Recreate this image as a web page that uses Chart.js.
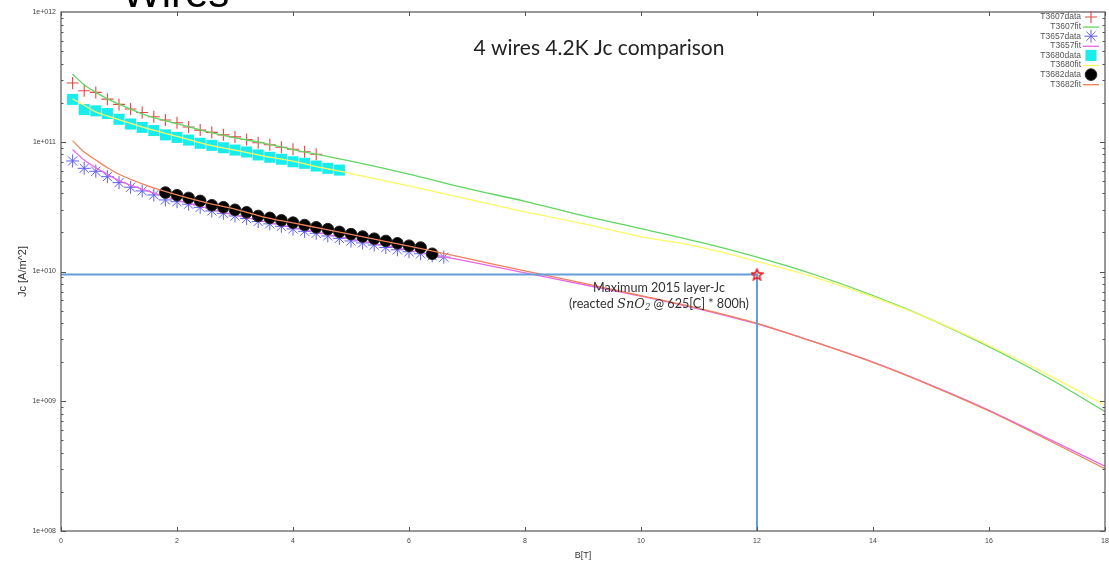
<!DOCTYPE html>
<html><head><meta charset="utf-8">
<script src="https://cdn.jsdelivr.net/npm/chart.js@4.4.0/dist/chart.umd.min.js"></script>
<style>html,body{margin:0;padding:0;background:#fff;overflow:hidden}#wrap{width:1109px;height:564px}</style>
</head><body><div id="wrap"><canvas id="c" width="1109" height="564"></canvas></div>
<script>
// ---- data (B in T, Jc in A/m^2) ----
const b3607 = [0.2,0.4,0.6,0.8,1.0,1.2,1.4,1.6,1.8,2.0,2.2,2.4,2.6,2.8,3.0,3.2,3.4,3.6,3.8,4.0,4.2,4.4];
const jc3607 = [2.84e11,2.47e11,2.40e11,2.13e11,1.94e11,1.79e11,1.68e11,1.56e11,1.47e11,1.40e11,1.30e11,1.23e11,1.18e11,1.13e11,1.09e11,1.04e11,9.82e10,9.48e10,9.06e10,8.75e10,8.38e10,8.00e10];
const b3657 = [0.2,0.4,0.6,0.8,1.0,1.2,1.4,1.6,1.8,2.0,2.2,2.4,2.6,2.8,3.0,3.2,3.4,3.6,3.8,4.0,4.2,4.4,4.6,4.8,5.0,5.2,5.4,5.6,5.8,6.0,6.2,6.4,6.6];
const jc3657 = [7.11e10,6.24e10,5.92e10,5.38e10,4.84e10,4.46e10,4.18e10,3.89e10,3.56e10,3.45e10,3.30e10,3.12e10,2.93e10,2.81e10,2.68e10,2.56e10,2.43e10,2.33e10,2.23e10,2.13e10,2.04e10,1.97e10,1.88e10,1.80e10,1.72e10,1.66e10,1.60e10,1.53e10,1.47e10,1.42e10,1.37e10,1.32e10,1.29e10];
const b3680 = [0.2,0.4,0.6,0.8,1.0,1.2,1.4,1.6,1.8,2.0,2.2,2.4,2.6,2.8,3.0,3.2,3.4,3.6,3.8,4.0,4.2,4.4,4.6,4.8];
const jc3680 = [2.12e11,1.77e11,1.73e11,1.65e11,1.49e11,1.37e11,1.29e11,1.22e11,1.13e11,1.08e11,1.03e11,9.73e10,9.38e10,8.99e10,8.63e10,8.34e10,7.91e10,7.59e10,7.33e10,7.01e10,6.82e10,6.50e10,6.24e10,6.05e10];
const b3682 = [1.8,2.0,2.2,2.4,2.6,2.8,3.0,3.2,3.4,3.6,3.8,4.0,4.2,4.4,4.6,4.8,5.0,5.2,5.4,5.6,5.8,6.0,6.2,6.4];
const jc3682 = [4.06e10,3.87e10,3.69e10,3.50e10,3.24e10,3.13e10,2.99e10,2.86e10,2.68e10,2.59e10,2.48e10,2.38e10,2.28e10,2.19e10,2.12e10,2.02e10,1.94e10,1.86e10,1.79e10,1.72e10,1.65e10,1.58e10,1.53e10,1.37e10];
const fitB = [0.2,0.4,0.6,0.8,1.0,1.5,2,2.5,3,3.5,4,4.5,5,6,7,8,9,10,11,12,13,14,15,16,17,18];
const fit3607 = [3.31e11,2.75e11,2.40e11,2.14e11,1.95e11,1.58e11,1.38e11,1.20e11,1.07e11,9.77e10,8.71e10,7.85e10,7.08e10,5.62e10,4.37e10,3.47e10,2.69e10,2.14e10,1.69e10,1.29e10,9.44e9,6.53e9,4.27e9,2.63e9,1.53e9,8.32e8];
const fit3657 = [8.71e10,7.24e10,6.31e10,5.62e10,5.01e10,4.17e10,3.55e10,3.09e10,2.72e10,2.43e10,2.19e10,1.97e10,1.78e10,1.46e10,1.20e10,9.77e9,7.94e9,6.46e9,5.13e9,3.94e9,2.85e9,2.00e9,1.33e9,8.51e8,5.19e8,3.16e8];
const fit3680 = [2.14e11,1.91e11,1.70e11,1.58e11,1.48e11,1.26e11,1.10e11,9.55e10,8.61e10,7.76e10,7.08e10,6.31e10,5.69e10,4.57e10,3.63e10,2.88e10,2.34e10,1.86e10,1.55e10,1.20e10,9.02e9,6.38e9,4.27e9,2.69e9,1.62e9,9.33e8];
const fit3682 = [1.02e11,8.32e10,7.24e10,6.31e10,5.62e10,4.57e10,3.89e10,3.39e10,3.02e10,2.63e10,2.37e10,2.14e10,1.93e10,1.57e10,1.26e10,1.01e10,8.13e9,6.53e9,5.19e9,3.98e9,2.85e9,1.99e9,1.32e9,8.41e8,5.07e8,3.02e8];
const refB = [0, 12, 12];
const refJc = [9.5e9, 9.5e9, 1e8];
const starB = [12];
const starJc = [9.5e9];
const seriesNames = ['T3607data','T3607fit','T3657data','T3657fit','T3680data','T3680fit','T3682data','T3682fit'];
const xTicks = [0,2,4,6,8,10,12,14,16,18];
const yTicks = [1e8,1e9,1e10,1e11,1e12];
const yTickLabels = ['1e+008','1e+009','1e+010','1e+011','1e+012'];
const titleText = '4 wires 4.2K Jc comparison';
const noteLine1 = 'Maximum 2015 layer-Jc';

const pts = (xs, ys) => xs.map((x, i) => ({x, y: ys[i]}));

// red outlined 5-point star marker
const starImg = document.createElement('canvas');
starImg.width = 13; starImg.height = 13;
(function(){
  const c = starImg.getContext('2d');
  c.strokeStyle = '#e8202a'; c.lineWidth = 1.6; c.beginPath();
  for (let i = 0; i < 10; i++) {
    const r = i % 2 ? 2.6 : 5.8;
    const a = -Math.PI/2 + i*Math.PI/5;
    const px = 6.5 + r*Math.cos(a), py = 7 + r*Math.sin(a);
    i ? c.lineTo(px, py) : c.moveTo(px, py);
  }
  c.closePath(); c.stroke();
})();

const C_RED = 'rgb(232,70,70)', C_GREEN = 'rgb(96,214,96)', C_BLUE = 'rgb(95,95,250)',
      C_MAG = 'rgb(232,104,232)', C_CYAN = 'rgb(24,236,236)', C_YEL = 'rgb(250,250,100)',
      C_BLK = '#000', C_ORG = 'rgb(240,128,88)';

const fitStyle = (c) => ({showLine:true, borderColor:c, borderWidth:1.3, pointRadius:0, fill:false, cubicInterpolationMode:'monotone'});

const datasets = [
  {label:seriesNames[0], data:pts(b3607,jc3607), showLine:false, pointStyle:'cross', pointRadius:6, borderColor:C_RED, backgroundColor:C_RED, pointBorderWidth:1.1, order:8},
  Object.assign({label:seriesNames[1], data:pts(fitB,fit3607), order:7}, fitStyle(C_GREEN)),
  {label:seriesNames[2], data:pts(b3657,jc3657), showLine:false, pointStyle:'star', pointRadius:6.5, borderColor:C_BLUE, backgroundColor:C_BLUE, pointBorderWidth:1, order:6},
  Object.assign({label:seriesNames[3], data:pts(fitB,fit3657), order:5}, fitStyle(C_MAG)),
  {label:seriesNames[4], data:pts(b3680,jc3680), showLine:false, pointStyle:'rect', pointRadius:7.8, borderColor:C_CYAN, backgroundColor:C_CYAN, pointBorderWidth:0, order:4},
  Object.assign({label:seriesNames[5], data:pts(fitB,fit3680), order:3}, fitStyle(C_YEL)),
  {label:seriesNames[6], data:pts(b3682,jc3682), showLine:false, pointStyle:'circle', pointRadius:5.8, borderColor:'#222', backgroundColor:C_BLK, pointBorderWidth:1, order:2},
  Object.assign({label:seriesNames[7], data:pts(fitB,fit3682), order:1}, fitStyle(C_ORG)),
  {label:'ref', data:pts(refB,refJc), showLine:true, borderColor:'rgb(100,160,215)', borderWidth:2, pointRadius:0, tension:0, order:0},
  {label:'star', data:pts(starB,starJc), showLine:false, pointStyle:starImg, pointRadius:6, order:-1}
];

const TXT = '#333';
const SANS = 'Lato, "Liberation Sans", sans-serif';
const deco = {
  id:'deco',
  afterDraw(chart){
    const ctx = chart.ctx, a = chart.chartArea, xs = chart.scales.x, ys = chart.scales.y;
    ctx.save();
    // frame
    ctx.strokeStyle = '#555'; ctx.lineWidth = 1.2;
    ctx.strokeRect(a.left, a.top, a.right - a.left, a.bottom - a.top);
    // ticks (inward, both sides)
    ctx.lineWidth = 1; ctx.strokeStyle = '#555';
    ctx.beginPath();
    for (let e = 8; e < 12; e++) {
      for (let k = 1; k <= 9; k++) {
        const v = k * Math.pow(10, e);
        const py = Math.round(ys.getPixelForValue(v)) + 0.5;
        const len = k === 1 ? 5 : 2.5;
        ctx.moveTo(a.left, py); ctx.lineTo(a.left + len, py);
        ctx.moveTo(a.right, py); ctx.lineTo(a.right - len, py);
      }
    }
    xTicks.forEach(t => {
      const px = Math.round(xs.getPixelForValue(t)) + 0.5;
      ctx.moveTo(px, a.bottom); ctx.lineTo(px, a.bottom - 4);
      ctx.moveTo(px, a.top); ctx.lineTo(px, a.top + 4);
    });
    ctx.stroke();
    // big clipped heading
    ctx.fillStyle = '#000'; ctx.font = '42px "Liberation Sans", Arial, sans-serif';
    ctx.textAlign = 'left'; ctx.textBaseline = 'alphabetic';
    ctx.fillText('Wires', 122, 7);
    // chart title
    ctx.fillStyle = '#222'; ctx.font = '21px ' + SANS;
    ctx.textAlign = 'center'; ctx.textBaseline = 'middle';
    ctx.fillText(titleText, 599, 48);
    // annotation
    const sx = xs.getPixelForValue(starB[0]), sy = ys.getPixelForValue(starJc[0]);
    ctx.fillStyle = TXT; ctx.font = '12.6px ' + SANS;
    ctx.fillText(noteLine1, sx - 98, sy + 14);
    const parts = [
      {t:'(reacted ', f:'12.6px ' + SANS, dy:0},
      {t:'SnO', f:'italic 13px "DejaVu Serif", serif', dy:0},
      {t:'2', f:'italic 8.5px "DejaVu Serif", serif', dy:3},
      {t:' @ 625[C] * 800h)', f:'12.6px ' + SANS, dy:0}
    ];
    let tw = 0; parts.forEach(p => { ctx.font = p.f; p.w = ctx.measureText(p.t).width; tw += p.w; });
    let cx = sx - 98 - tw/2; ctx.textAlign = 'left';
    parts.forEach(p => { ctx.font = p.f; ctx.fillText(p.t, cx, sy + 30 + p.dy); cx += p.w; });
    // legend
    ctx.font = '8.5px "Liberation Sans", Arial, sans-serif';
    ctx.textAlign = 'right'; ctx.textBaseline = 'middle';
    for (let i = 0; i < 8; i++) {
      const ds = chart.data.datasets[i];
      const ly = 17 + i * 9.6;
      ctx.fillStyle = '#555';
      ctx.fillText(ds.label, 1081, ly);
      if (ds.showLine) {
        ctx.strokeStyle = ds.borderColor; ctx.lineWidth = 1.3;
        ctx.beginPath(); ctx.moveTo(1083, ly + 0.5); ctx.lineTo(1099, ly + 0.5); ctx.stroke();
      } else {
        ctx.strokeStyle = ds.borderColor; ctx.fillStyle = ds.backgroundColor; ctx.lineWidth = ds.pointBorderWidth || 1;
        Chart.helpers.drawPoint(ctx, {pointStyle: ds.pointStyle, radius: ds.pointRadius, rotation: 0, borderWidth: ds.pointBorderWidth}, 1091, ly);
      }
    }
    ctx.restore();
  }
};

new Chart(document.getElementById('c'), {
  type:'scatter',
  data:{datasets},
  options:{
    responsive:false, animation:false, devicePixelRatio:1,
    layout:{autoPadding:false, padding:{left:0, right:4, top:12, bottom:0}},
    plugins:{legend:{display:false}, tooltip:{enabled:false}},
    scales:{
      x:{type:'linear', min:0, max:18,
        afterBuildTicks:s => { s.ticks = xTicks.map(v => ({value:v})); },
        afterFit:s => { s.height = 33; s.paddingLeft = 0; s.paddingRight = 0; },
        grid:{display:false, drawTicks:false}, border:{display:false},
        ticks:{font:{size:7, family:'"Liberation Sans", Arial'}, color:'#444', padding:6, maxRotation:0},
        title:{display:true, text:'B[T]', font:{size:9, family:'"Liberation Sans", Arial'}, color:'#333', padding:{top:0, bottom:3}}
      },
      y:{type:'logarithmic', min:1e8, max:1e12,
        afterBuildTicks:s => { s.ticks = yTicks.map(v => ({value:v, major:true})); },
        afterFit:s => { s.width = 61; s.paddingTop = 0; s.paddingBottom = 0; },
        grid:{display:false, drawTicks:false}, border:{display:false},
        ticks:{font:{size:7, family:'"Liberation Sans", Arial'}, color:'#444', padding:5,
          callback:(v) => { const i = yTicks.indexOf(v); return i >= 0 ? yTickLabels[i] : ''; }},
        title:{display:true, text:'Jc [A/m^2]', font:{size:11, family:'"Liberation Sans", Arial'}, color:'#333', padding:{top:16, bottom:0}}
      }
    }
  },
  plugins:[deco]
});
</script></body></html>
